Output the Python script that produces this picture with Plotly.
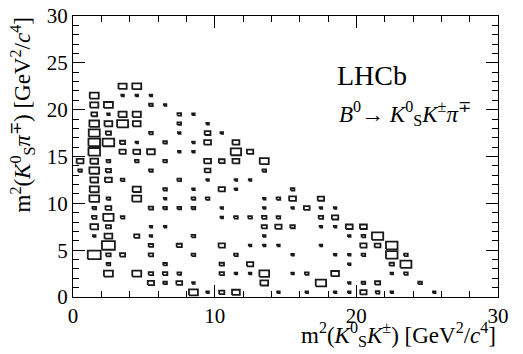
import plotly.graph_objects as go

# Lower bin edges (GeV^2/c^4) of filled cells and their contents
m2_KK_bin = [
    3, 4,
    1, 3, 4, 5,
    1, 2, 5, 6,
    1, 2, 3, 4, 7, 8,
    1, 2, 3, 4, 7, 9,
    1, 2, 5, 7, 9, 10,
    1, 2, 3, 4, 6, 8, 9, 11,
    1, 3, 4, 5, 7, 8, 11, 12,
    0, 1, 2, 4, 6, 9, 10, 11, 13,
    0, 1, 2, 5, 9, 13,
    1, 2, 3, 7, 9, 11, 12,
    1, 4, 6, 8, 10, 11, 15,
    1, 2, 4, 6, 8, 9, 13, 14, 15, 17,
    1, 2, 5, 6, 7, 8, 10, 13, 15, 16, 17, 18,
    1, 2, 3, 10, 11, 12, 13, 14, 17, 18,
    1, 2, 5, 6, 13, 14, 15, 17, 18, 19, 20,
    1, 2, 4, 5, 8, 13, 19, 20, 21,
    2, 5, 7, 10, 12, 13, 14, 17, 20, 21, 22,
    1, 2, 3, 5, 8, 11, 15, 18, 19, 20, 22, 23,
    2, 6, 10, 12, 19, 22, 23,
    2, 4, 5, 6, 7, 10, 11, 12, 13, 15, 16, 18, 22, 23,
    5, 6, 7, 8, 13, 17, 19, 20, 21, 24,
    8, 9, 10, 11, 14, 16, 18, 19, 20, 21, 22, 25,
]
m2_Kpi_bin = (
    [22] * 2 + [21] * 4 + [20] * 4 + [19] * 6 + [18] * 6 + [17] * 6
    + [16] * 8 + [15] * 8 + [14] * 9 + [13] * 6 + [12] * 7 + [11] * 7
    + [10] * 10 + [9] * 12 + [8] * 10 + [7] * 11 + [6] * 9 + [5] * 11
    + [4] * 12 + [3] * 7 + [2] * 14 + [1] * 10 + [0] * 12
)
n_events = [
    10, 12,
    12, 1, 1, 1,
    10, 12, 2, 1,
    5, 1, 10, 10, 2, 1,
    14, 9, 18, 9, 2, 1,
    18, 4, 2, 1, 5, 1,
    20, 20, 4, 1, 2, 1, 7, 7,
    20, 6, 7, 9, 1, 1, 16, 6,
    7, 9, 2, 2, 2, 7, 5, 7, 12,
    2, 14, 4, 2, 5, 2,
    9, 7, 2, 2, 1, 1, 1,
    12, 10, 2, 1, 6, 1, 2,
    14, 2, 12, 1, 2, 2, 1, 2, 7, 6,
    2, 5, 3, 2, 2, 2, 1, 1, 1, 5, 1, 1,
    3, 16, 2, 1, 2, 2, 3, 2, 3, 6,
    9, 4, 1, 1, 4, 6, 3, 1, 1, 7, 7,
    1, 9, 4, 1, 2, 1, 1, 2, 19,
    25, 3, 4, 6, 1, 1, 1, 1, 6, 5, 20,
    25, 3, 4, 3, 2, 2, 1, 1, 1, 2, 20, 2,
    2, 2, 3, 6, 1, 3, 18,
    12, 12, 3, 3, 2, 3, 1, 1, 14, 1, 2, 9, 1, 2,
    6, 2, 5, 1, 9, 16, 1, 2, 4, 2,
    12, 1, 4, 9, 1, 1, 1, 1, 6, 2, 1, 1,
]

x_ticks = [0, 10, 20, 30]
y_ticks = [0, 5, 10, 15, 20, 25, 30]

BIN_W = 1.0
BIN_H = 1.0
CMAX = 30.0
FONT = "Liberation Serif"

xs, ys = [], []
for xl, yl, c in zip(m2_KK_bin, m2_Kpi_bin, n_events):
    f = (c / CMAX) ** 0.5
    cx, cy = xl + BIN_W / 2, yl + BIN_H / 2
    hw, hh = f * BIN_W / 2, f * BIN_H / 2
    xs += [cx - hw, cx + hw, cx + hw, cx - hw, cx - hw, None]
    ys += [cy - hh, cy - hh, cy + hh, cy + hh, cy - hh, None]

fig = go.Figure()
fig.add_trace(go.Scatter(
    x=xs, y=ys, mode="lines",
    line=dict(color="#1a1a1a", width=1.8),
    hoverinfo="skip", showlegend=False,
))

axis_common = dict(
    range=[0, 30], showgrid=False, zeroline=False, automargin=False,
    showline=True, linecolor="black", linewidth=1.3, mirror="allticks",
    ticks="inside", ticklen=12, tickwidth=1.1, tickcolor="black",
    ticklabeloverflow="allow",
    tickfont=dict(family=FONT, size=21, color="black"),
)
fig.update_xaxes(
    **axis_common, tickvals=x_ticks,
    minor=dict(dtick=2, ticks="inside", ticklen=6, tickcolor="black", tickwidth=1.1),
)
fig.update_yaxes(
    **axis_common, tickvals=y_ticks,
    minor=dict(dtick=1, ticks="inside", ticklen=6, tickcolor="black", tickwidth=1.1),
)

fig.add_annotation(
    text="m<sup>2</sup>(<i>K</i><sup>0</sup><sub>S</sub><i>K</i><sup>±</sup>) [GeV<sup>2</sup>/<i>c</i><sup>4</sup>]",
    xref="paper", yref="paper", x=1, y=-0.135, xanchor="right", yanchor="middle",
    showarrow=False, font=dict(family=FONT, size=23, color="black"),
)
fig.add_annotation(
    text="m<sup>2</sup>(<i>K</i><sup>0</sup><sub>S</sub><i>π</i><sup>∓</sup>) [GeV<sup>2</sup>/<i>c</i><sup>4</sup>]",
    xref="paper", yref="paper", x=-0.12, y=1, xanchor="center", yanchor="top",
    textangle=-90, showarrow=False, font=dict(family=FONT, size=23, color="black"),
)
fig.add_annotation(
    text="LHCb", x=21.1, y=23.7, xref="x", yref="y",
    showarrow=False, font=dict(family=FONT, size=28, color="black"),
)
fig.add_annotation(
    text="<i>B</i><sup>0</sup>→ <i>K</i><sup>0</sup><sub>S</sub><i>K</i><sup>±</sup><i>π</i><sup>∓</sup>",
    x=23.4, y=19.6, xref="x", yref="y",
    showarrow=False, font=dict(family=FONT, size=23, color="black"),
)

# page body adds an 8 px offset; size the figure so the frame lands where the reference has it
fig.update_layout(
    width=515, height=346,
    margin=dict(l=65, r=25, t=8, b=57),
    paper_bgcolor="white", plot_bgcolor="white",
)
fig.write_html("out.html")
